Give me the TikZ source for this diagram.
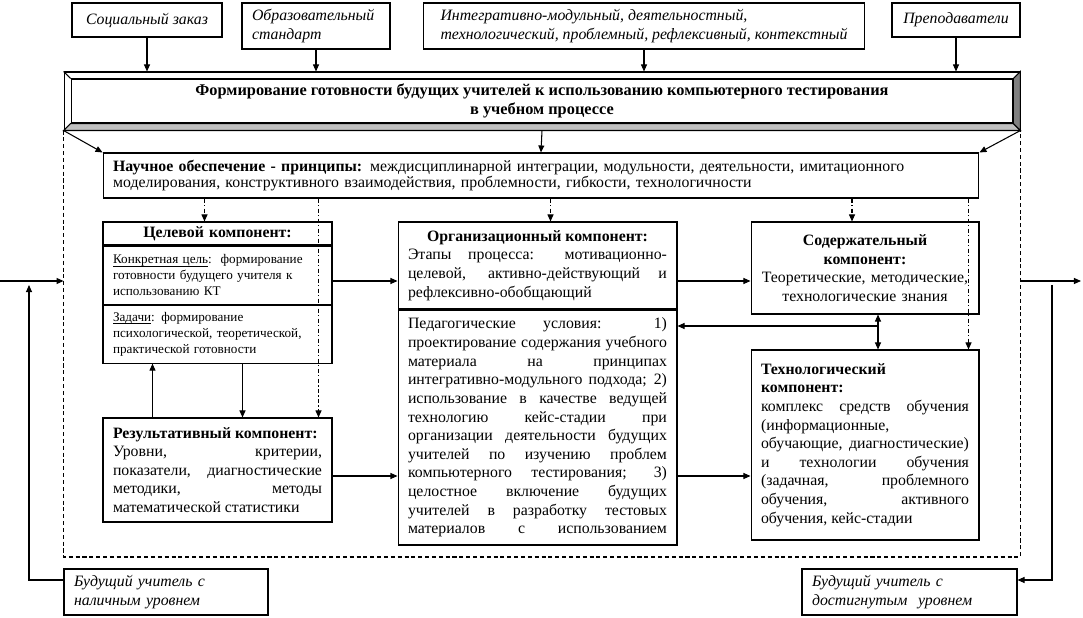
\documentclass[tikz,border=0pt]{standalone}
\usepackage{fontspec}
\setmainfont{Liberation Serif}
\usepackage{tikz}
\usetikzlibrary{arrows.meta,positioning,calc}
\setlength{\parindent}{0pt}
\newlength{\undlen}
\newcommand{\undertext}[1]{\settowidth{\undlen}{#1}\rlap{\rule[-1.5pt]{\undlen}{0.4pt}}#1}
\definecolor{bevlight}{HTML}{C0C0C0}
\definecolor{bevdark}{HTML}{808080}
\tikzset{
  sourcebox/.style={draw, fill=white, align=left, inner xsep=0.2cm, inner ysep=0pt, font=\fontsize{9}{10.6}\selectfont\itshape},
  titlebox/.style={draw, fill=white, minimum width=19.12cm, minimum height=1.16cm, inner sep=0pt},
  titlein/.style={draw, fill=white, minimum width=18.84cm, minimum height=0.88cm, inner sep=0pt, align=center, font=\fontsize{9.3}{10.4}\selectfont\bfseries},
  comp/.style={draw, fill=white, inner xsep=0.2cm, inner ysep=0pt, align=justify, font=\fontsize{9}{10.6}\selectfont},
  smallcomp/.style={comp, align=left, font=\fontsize{7.5}{9}\selectfont},
  arrow/.style={-{Triangle[length=4pt,width=3.4pt]}},
  dblarrow/.style={{Triangle[length=4pt,width=3.4pt]}-{Triangle[length=4pt,width=3.4pt]}},
  dasharrow/.style={arrow, dash pattern=on 2.5pt off 1.3pt on 0.6pt off 1.3pt},
  frameline/.style={dash pattern=on 2.3pt off 1.6pt}
}

\begin{document}
\begin{tikzpicture}[x=0.02cm, y=-0.02cm, line width=0.6pt]
  \useasboundingbox (0,0) rectangle (1083,618);

  \node[sourcebox, minimum width=3cm, minimum height=0.68cm] (social) at (147,20) {Социальный заказ};
  \node[sourcebox, text width=2.56cm, minimum height=0.92cm] (standard) at (316,26) {Образовательный\\стандарт};
  \node[sourcebox, minimum width=8.84cm, minimum height=0.92cm] (approach) at (644,26) {Интегративно-модульный, деятельностный,\\технологический, проблемный, рефлексивный, контекстный};
  \node[sourcebox, minimum width=2.56cm, minimum height=0.68cm] (teachers) at (956,20) {Преподаватели};

  \node[titlebox] (banner) at (542,101) {};
  \node[titlein] (bannerin) at (banner.center) {Формирование готовности будущих учителей к использованию компьютерного тестирования\\в учебном процессе};
  \filldraw[fill=bevlight] (banner.south west) -- (banner.south east) -- (bannerin.south east) -- (bannerin.south west) -- cycle;
  \filldraw[fill=bevdark] (banner.south east) -- (banner.north east) -- (bannerin.north east) -- (bannerin.south east) -- cycle;
  \draw (banner.north west) -- (bannerin.north west);

  \coordinate (framebottom) at (0,557);
  \draw[frameline] (banner.south west) -- (banner.south west |- framebottom) -| (banner.south east);

  \node[comp, align=left, text width=17.12cm, minimum height=0.9cm, font=\fontsize{9}{9.2}\selectfont] (science) at (541,175.5) {\textbf{Научное обеспечение - принципы:} междисциплинарной интеграции, модульности, деятельности, имитационного\\моделирования, конструктивного взаимодействия, проблемности, гибкости, технологичности};

  \node[comp, align=center, text width=4.18cm, minimum height=0.46cm, font=\fontsize{9}{10}\selectfont\bfseries] (goalhead) at (217.5,233.5) {Целевой компонент:};
  \node[smallcomp, text width=4.18cm, minimum height=1.16cm, below=0pt of goalhead] (goalaim) {\undertext{Конкретная цель}:\ \ формирование\\готовности будущего учителя к\\использованию КТ};
  \node[smallcomp, text width=4.18cm, minimum height=1.16cm, below=0pt of goalaim] (goaltask) {\undertext{Задачи}: формирование\\психологической, теоретической,\\практической готовности};

  \node[comp, text width=4.18cm, minimum height=2.08cm] (result) at (217.5,470) {\textbf{Результативный компонент:}\\Уровни, критерии,\linebreak показатели, диагностические\linebreak методики, методы\linebreak математической статистики};

  \node[comp, text width=5.18cm, minimum height=1.74cm] (orgtop) at (537.5,265.5) {{\centering\textbf{Организационный компонент:}\par}Этапы процесса: мотивационно-\linebreak целевой, активно-действующий и\linebreak рефлексивно-обобщающий};
  \node[comp, text width=5.18cm, minimum height=4.7cm, below=0pt of orgtop] (orgcond) {\parfillskip=0pt Педагогические условия: 1)\linebreak проектирование содержания учебного\linebreak материала на принципах\linebreak интегративно-модульного подхода; 2)\linebreak использование в качестве ведущей\linebreak технологию кейс-стадии при\linebreak организации деятельности будущих\linebreak учителей по изучению проблем\linebreak компьютерного тестирования; 3)\linebreak целостное включение будущих\linebreak учителей в разработку тестовых\linebreak материалов с использованием\par};

  \node[comp, align=center, text width=4.16cm, minimum height=1.84cm] (content) at (865,268) {\textbf{Содержательный}\\\textbf{компонент:}\\Теоретические, методические,\\технологические знания};
  \node[comp, text width=4.16cm, minimum height=3.8cm] (tech) at (865,445) {\textbf{Технологический}\\\textbf{компонент:}\\комплекс средств обучения\linebreak (информационные,\\обучающие, диагностические)\linebreak и технологии обучения\linebreak (задачная, проблемного\linebreak обучения, активного\linebreak обучения, кейс-стадии};

  \node[sourcebox, text width=3.68cm, minimum height=0.92cm] (startlevel) at (166,592) {Будущий учитель с\\наличным уровнем};
  \node[sourcebox, text width=3.9cm, minimum height=0.92cm] (endlevel) at (909.5,592) {Будущий учитель с\\достигнутым\ \ уровнем};

  \draw[arrow] (social.south) -- (social.south |- banner.north);
  \draw[arrow] (standard.south) -- (standard.south |- banner.north);
  \draw[arrow] (approach.south) -- (approach.south |- banner.north);
  \draw[arrow] (teachers.south) -- (teachers.south |- banner.north);
  \draw[arrow] (banner.south) -- (science.north);
  \draw[arrow] (banner.south west) -- (science.north west);
  \draw[arrow] (banner.south east) -- (science.north east);

  \coordinate (goalin) at ($(goalhead.north)+(-13,0)$);
  \coordinate (orgin) at ($(orgtop.north)+(13,0)$);
  \coordinate (contentin) at ($(content.north)+(-13,0)$);
  \coordinate (resultin) at ($(result.north east)+(-14,0)$);
  \coordinate (techin) at ($(tech.north east)+(-11,0)$);
  \draw[dasharrow] (science.south -| goalin) -- (goalin);
  \draw[dasharrow] (science.south -| orgin) -- (orgin);
  \draw[dasharrow] (science.south -| contentin) -- (contentin);
  \draw[dasharrow] (science.south -| resultin) -- (resultin);
  \draw[dasharrow] (science.south -| techin) -- (techin);

  \coordinate (goaldown) at ($(goaltask.south)+(25,0)$);
  \coordinate (goalup) at ($(result.north)+(-65,0)$);
  \draw[arrow] (goaldown) -- (goaldown |- result.north);
  \draw[arrow] (goalup) -- (goalup |- goaltask.south);

  \coordinate (rowone) at (0,281);
  \coordinate (rowtwo) at (0,476);
  \draw[arrow] (goalaim.east |- rowone) -- (orgtop.west |- rowone);
  \draw[arrow] (orgtop.east |- rowone) -- (content.west |- rowone);
  \draw[arrow] (result.east |- rowtwo) -- (orgcond.west |- rowtwo);
  \draw[arrow] (orgcond.east |- rowtwo) -- (tech.west |- rowtwo);

  \coordinate (feedback) at (878,326);
  \draw[arrow] (feedback) -- (feedback -| orgcond.east);
  \draw[dblarrow] (feedback |- content.south) -- (feedback |- tech.north);

  \coordinate (outright) at (1081,281);
  \coordinate (backleft) at (29,285);
  \coordinate (backright) at (1052,285);
  \draw[arrow] (rowone) -- (rowone -| banner.south west);
  \draw[arrow] (rowone -| banner.south east) -- (outright);
  \draw[arrow] ($(startlevel.west)+(0,-12)$) -| (backleft);
  \draw[arrow] (backright) |- ($(endlevel.east)+(0,-12)$);
\end{tikzpicture}
\end{document}
